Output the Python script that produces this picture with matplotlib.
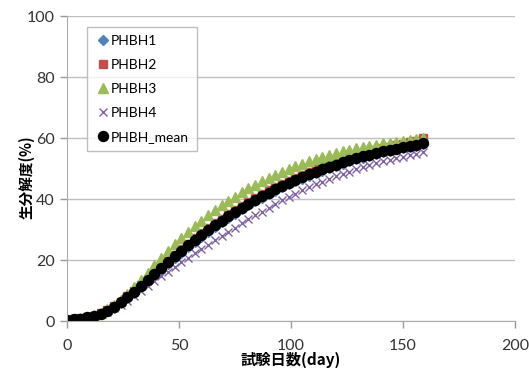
import numpy as np
import matplotlib.pyplot as plt

# Data
days = list(range(0, 160, 3))

phbh1 = [0.3, 0.5, 0.8, 1.2, 1.7, 2.3, 3.2, 4.4, 5.9, 7.5,
         9.3, 11.1, 13.0, 14.9, 16.8, 18.7, 20.6, 22.4, 24.2, 25.9,
         27.6, 29.2, 30.8, 32.3, 33.8, 35.2, 36.6, 37.9, 39.2, 40.4,
         41.6, 42.7, 43.8, 44.8, 45.8, 46.7, 47.6, 48.5, 49.3, 50.1,
         50.9, 51.6, 52.3, 53.0, 53.6, 54.2, 54.8, 55.3, 55.8, 56.3,
         56.7, 57.1, 57.5, 57.9]
phbh2 = [0.3, 0.5, 0.9, 1.3, 1.8, 2.5, 3.5, 4.8, 6.3, 8.1,
         9.9, 11.9, 13.9, 15.9, 17.9, 19.9, 21.8, 23.6, 25.4, 27.1,
         28.8, 30.4, 32.0, 33.5, 35.0, 36.4, 37.8, 39.1, 40.4, 41.6,
         42.8, 43.9, 45.0, 46.0, 47.0, 47.9, 48.8, 49.7, 50.5, 51.3,
         52.1, 52.8, 53.5, 54.2, 54.8, 55.4, 56.0, 56.6, 57.1, 57.6,
         58.1, 58.6, 59.1, 59.9]
phbh3 = [0.3, 0.5, 0.9, 1.3, 1.9, 2.7, 3.8, 5.2, 6.9, 8.9,
         11.1, 13.4, 15.8, 18.2, 20.6, 22.9, 25.1, 27.2, 29.2, 31.1,
         32.9, 34.6, 36.3, 37.9, 39.4, 40.8, 42.2, 43.5, 44.7, 45.9,
         47.0, 48.0, 49.0, 49.9, 50.8, 51.6, 52.4, 53.1, 53.8, 54.4,
         55.0, 55.6, 56.1, 56.6, 57.0, 57.4, 57.8, 58.2, 58.5, 58.8,
         59.1, 59.4, 59.7, 60.0]
phbh4 = [0.2, 0.4, 0.7, 1.1, 1.6, 2.3, 3.1, 4.1, 5.3, 6.7,
         8.2, 9.8, 11.4, 13.0, 14.6, 16.2, 17.8, 19.4, 20.8, 22.2,
         23.6, 25.0, 26.4, 27.8, 29.2, 30.6, 32.0, 33.3, 34.6, 35.9,
         37.2, 38.4, 39.6, 40.7, 41.8, 42.8, 43.8, 44.8, 45.7, 46.6,
         47.4, 48.2, 49.0, 49.7, 50.4, 51.1, 51.7, 52.3, 52.9, 53.4,
         53.9, 54.4, 54.9, 55.3]
phbh_mean = [0.3, 0.5, 0.8, 1.2, 1.7, 2.4, 3.4, 4.6, 6.1, 7.8,
             9.6, 11.5, 13.5, 15.5, 17.5, 19.4, 21.3, 23.1, 24.9, 26.6,
             28.2, 29.8, 31.4, 32.9, 34.3, 35.7, 37.1, 38.4, 39.7, 40.9,
             42.1, 43.2, 44.3, 45.3, 46.3, 47.2, 48.1, 49.0, 49.8, 50.6,
             51.3, 52.0, 52.7, 53.4, 54.0, 54.5, 55.1, 55.6, 56.1, 56.5,
             57.0, 57.4, 57.8, 58.2]

x_ticks = [0, 50, 100, 150, 200]
y_ticks = [0, 20, 40, 60, 80, 100]

plt.rcParams['font.family'] = ['Lato', 'Noto Sans CJK JP', 'DejaVu Sans']

fig = plt.figure(figsize=(5.29, 3.74), dpi=100)
ax = fig.add_axes([0.1267, 0.1417, 0.8468, 0.8155])

ax.plot(days, phbh1, linestyle='none', marker='D', markersize=5,
        color='#4F81BD', label='PHBH1')
ax.plot(days, phbh2, linestyle='none', marker='s', markersize=5.5,
        color='#C0504D', label='PHBH2')
ax.plot(days, phbh3, linestyle='none', marker='^', markersize=7,
        color='#9BBB59', label='PHBH3')
ax.plot(days, phbh4, linestyle='none', marker='x', markersize=6,
        markeredgewidth=1, color='#8064A2', label='PHBH4')
ax.plot(days, phbh_mean, linestyle='none', marker='o', markersize=7.2,
        color='black', label='PHBH_mean')

ax.set_xlim(0, 200)
ax.set_ylim(0, 100)
ax.set_xticks(x_ticks)
ax.set_yticks(y_ticks)
ax.tick_params(axis='both', labelsize=11.5, colors='#999999',
               labelcolor='#333333', length=5, width=1)
ax.tick_params(axis='x', pad=8)
ax.tick_params(axis='y', pad=4)
ax.grid(axis='y', color='#c0c0c0', linewidth=1)
ax.set_axisbelow(True)
for s in ['top', 'right']:
    ax.spines[s].set_visible(False)
for s in ['left', 'bottom']:
    ax.spines[s].set_color('#aaaaaa')

ax.set_ylabel('生分解度(%)', family=['Noto Sans CJK JP', 'DejaVu Sans'],
              fontweight='bold', fontsize=10.5)
ax.yaxis.set_label_coords(-0.072, 0.47)
ax.set_xlabel('試験日数(day)', family=['Noto Sans CJK JP', 'DejaVu Sans'],
              fontweight='bold', fontsize=11, labelpad=-1)

leg = ax.legend(loc='upper left', bbox_to_anchor=(0.045, 0.964),
                borderaxespad=0, fontsize=10, frameon=True, fancybox=False,
                handletextpad=0.0, handlelength=1.1, borderpad=0.6,
                labelspacing=0.85)
leg.get_frame().set_edgecolor('#b0b0b0')
leg.get_frame().set_linewidth(1)

fig.savefig('out.png', dpi=100)
